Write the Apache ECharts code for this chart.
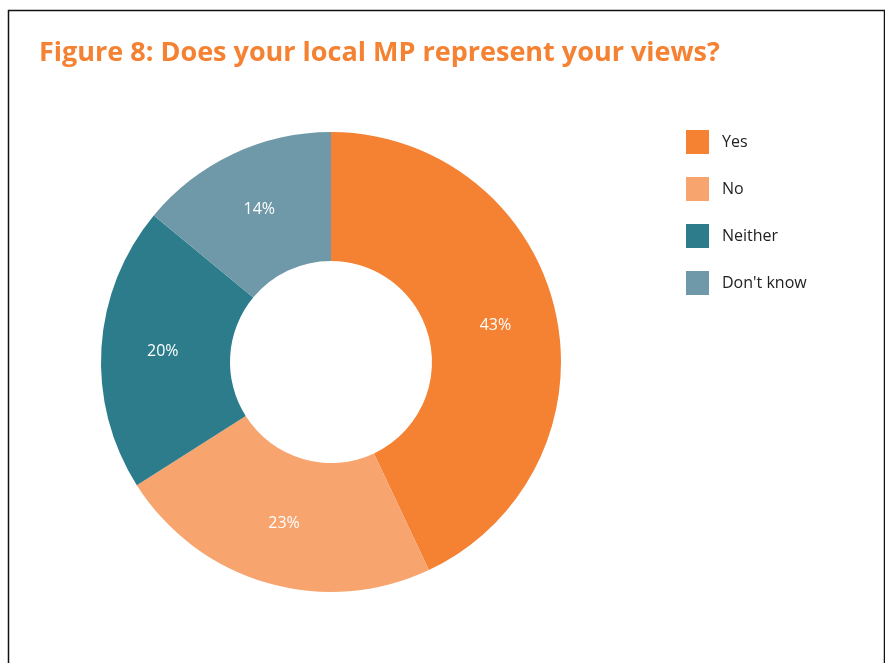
<!DOCTYPE html>
<html>
<head>
<meta charset="utf-8">
<script src="https://cdn.jsdelivr.net/npm/echarts@6/dist/echarts.min.js"></script>
<style>
  html, body { margin: 0; padding: 0; background: #fff; }
  #chart { width: 885px; height: 663px; }
</style>
</head>
<body>
<div id="chart"></div>
<script>
// Survey answers and their shares (%)
const categories = ['Yes', 'No', 'Neither', "Don't know"];
const shares = [43, 23, 20, 14];
const colors = ['#F58132', '#F7A46E', '#2C7C8C', '#6F99A8'];

const FONT = '"Open Sans", "Noto Sans", sans-serif';

const chart = echarts.init(document.getElementById('chart'), null, { renderer: 'canvas' });

chart.setOption({
  backgroundColor: '#ffffff',
  animation: false,
  graphic: [{
    type: 'rect',
    shape: { x: 8.5, y: 10.5, width: 876, height: 700 },
    style: { fill: 'none', stroke: '#111', lineWidth: 1.5 },
    silent: true
  }],
  title: {
    text: 'Figure 8: Does your local MP represent your views?',
    left: 39,
    top: 40,
    padding: 0,
    textStyle: {
      fontFamily: FONT,
      fontWeight: 'bold',
      fontSize: 27,
      color: '#F58132'
    }
  },
  legend: {
    orient: 'vertical',
    left: 686,
    top: 130,
    padding: 0,
    itemWidth: 23,
    itemHeight: 24,
    itemGap: 23,
    icon: 'rect',
    data: categories,
    textStyle: {
      fontFamily: FONT,
      fontSize: 16,
      color: '#222',
      padding: [0, 0, 0, 8]
    }
  },
  series: [{
    type: 'pie',
    center: [331, 362],
    radius: [101, 230],
    startAngle: 90,
    clockwise: true,
    avoidLabelOverlap: false,
    label: {
      show: true,
      position: 'inside',
      formatter: '{c}%',
      color: '#ffffff',
      fontFamily: FONT,
      fontSize: 16
    },
    labelLine: { show: false },
    emphasis: { disabled: true },
    data: categories.map((name, i) => ({
      name: name,
      value: shares[i],
      itemStyle: { color: colors[i] }
    }))
  }]
});
</script>
</body>
</html>
